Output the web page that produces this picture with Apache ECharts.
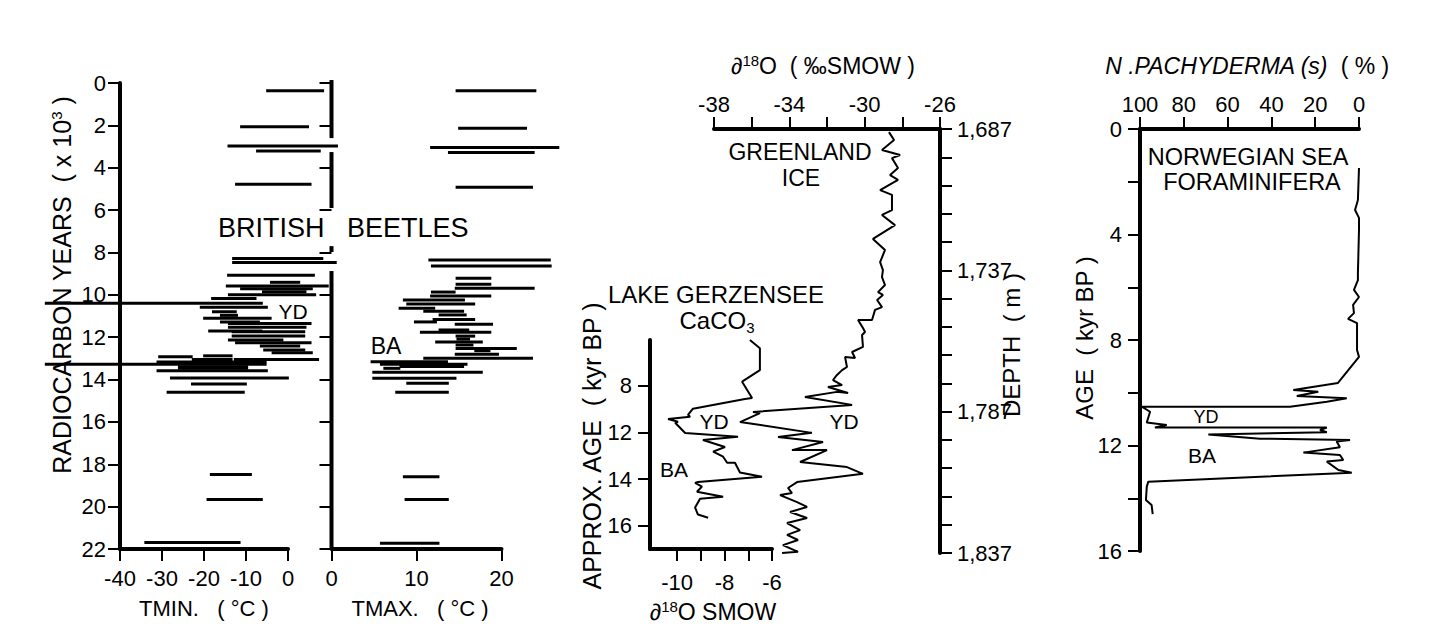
<!DOCTYPE html>
<html>
<head>
<meta charset="utf-8">
<script src="https://cdn.jsdelivr.net/npm/echarts@6/dist/echarts.min.js"></script>
<style>
  html, body { margin: 0; padding: 0; background: #fff; }
  #chart { width: 1431px; height: 640px; }
</style>
</head>
<body>
<div id="chart"></div>
<script>
// British beetles: [age (kyr 14C), low, high]
const tminBars = [
  [0.36, -5.2, 8.6], [2.06, -11.4, 5.0], [2.97, -14.4, 11.9], [3.21, -7.6, 7.8], [4.78, -12.6, 5.6],
  [8.28, -13.3, 8.4], [8.47, -13.3, 11.6],
  [9.08, -14.5, 6.4], [9.41, -4.3, 2.9], [9.58, -14.8, 9.7], [9.71, -11.4, 5.9], [9.85, -6.2, 4.4],
  [10.0, -14.3, 6.7], [10.17, -18.3, -7.5], [10.4, -57.9, -6.0], [10.59, -21.0, -4.8], [10.8, -18.1, -12.2],
  [10.97, -16.2, -11.9], [11.11, -20.2, -3.9], [11.28, -16.2, -6.7], [11.35, -14.3, 5.6], [11.53, -14.3, 4.4],
  [11.71, -19.0, -6.1], [11.74, -13.4, 4.1], [11.95, -13.4, 4.1], [12.13, -14.3, -1.1], [12.26, -12.6, 5.6],
  [12.42, -6.7, 2.9], [12.6, -5.9, 4.1], [12.73, -3.9, 5.9], [12.88, -20.2, -13.2], [12.92, -30.9, -22.7],
  [13.05, -22.9, -13.2], [13.05, -12.9, 7.4], [13.17, -31.3, -5.1], [13.28, -57.9, -5.1], [13.4, -26.2, -9.5],
  [13.47, -26.2, -9.5], [13.58, -31.3, -4.8], [13.93, -28.1, 0.2], [14.21, -23.1, -9.8], [14.6, -28.9, -10.3],
  [18.48, -18.6, -8.6], [19.66, -19.4, -6.0], [21.69, -34.2, -11.3]
];
const tmaxBars = [
  [0.36, 14.6, 24.1], [2.14, 14.9, 23.0], [3.04, 11.6, 26.8], [3.28, 13.7, 23.9], [4.92, 14.6, 23.7],
  [8.36, 11.4, 25.8], [8.64, 11.7, 25.9],
  [9.22, 14.6, 18.8], [9.5, 14.6, 18.8], [9.69, 14.5, 23.9], [9.87, 11.7, 14.6], [10.06, 11.6, 18.8],
  [10.25, 8.4, 15.7], [10.43, 8.8, 16.9], [10.64, 7.9, 12.2], [10.77, 10.8, 15.6], [10.95, 12.6, 15.9],
  [11.16, 11.9, 16.9], [11.28, 9.7, 12.4], [11.39, 14.5, 19.0], [11.66, 12.6, 16.2], [11.77, 10.4, 18.8],
  [11.95, 14.6, 16.9], [12.09, 14.7, 16.3], [12.23, 12.2, 17.8], [12.37, 14.6, 16.7], [12.53, 14.6, 21.8],
  [12.64, 16.8, 18.7], [12.81, 14.5, 19.7], [13.0, 10.8, 23.7], [13.16, 4.6, 13.7], [13.28, 5.7, 16.0],
  [13.39, 8.0, 15.6], [13.47, 6.1, 8.1], [13.66, 4.8, 17.8], [13.94, 4.8, 14.7], [14.18, 8.8, 13.8],
  [14.6, 7.5, 13.8], [18.59, 8.4, 12.7], [19.66, 8.6, 13.8], [21.73, 5.7, 12.7]
];
// pieces of the broken TMAX age axis [from, to]
const tmaxAxisPieces = [[-0.14, 2.6], [3.26, 5.9], [7.7, 7.98], [8.88, 22]];

// Greenland ice: [depth m, d18O]
const greenland = [
  [1688.1, -28.71], [1690.9, -28.44], [1694.4, -29.08], [1696.2, -28.12], [1697.3, -28.55], [1700.8, -28.23],
  [1703.3, -28.65], [1705.0, -28.23], [1708.6, -29.18], [1710.3, -28.55], [1715.7, -28.55], [1717.4, -29.08],
  [1721.0, -28.39], [1725.9, -29.56], [1729.8, -28.92], [1734.1, -29.18], [1736.9, -29.03], [1739.4, -29.08],
  [1742.2, -28.92], [1744.7, -29.29], [1745.7, -29.03], [1747.5, -29.34], [1750.0, -29.08], [1751.0, -29.45],
  [1754.6, -29.61], [1754.6, -30.35], [1757.4, -30.09], [1758.8, -29.98], [1759.9, -30.14], [1764.1, -30.09],
  [1765.9, -30.67], [1768.0, -30.51], [1767.7, -31.04], [1771.2, -30.94], [1772.3, -31.20], [1774.0, -31.47],
  [1775.8, -31.68], [1777.6, -31.20], [1778.3, -31.95], [1780.4, -30.88], [1780.0, -31.47], [1781.8, -33.17],
  [1784.6, -30.67], [1787.1, -35.93], [1787.5, -35.56], [1790.7, -36.62], [1791.0, -36.25], [1794.5, -32.80],
  [1796.0, -34.60], [1797.7, -32.21], [1800.6, -33.86], [1800.6, -32.00], [1804.8, -33.43], [1806.6, -30.94],
  [1809.0, -30.09], [1811.9, -33.59], [1814.0, -34.07], [1815.8, -33.86], [1816.5, -34.49], [1819.0, -33.59],
  [1820.7, -33.06], [1822.5, -33.96], [1824.6, -33.06], [1826.4, -34.12], [1828.9, -33.43], [1830.6, -34.12],
  [1832.4, -33.54], [1834.2, -34.34], [1836.6, -33.54], [1837.0, -34.39]
];
const depthTicks = [1687, 1697, 1707, 1717, 1727, 1737, 1747, 1757, 1767, 1777, 1787, 1797, 1807, 1817, 1827, 1837];
const depthLabels = [1687, 1737, 1787, 1837];

// Lake Gerzensee: [age tick position, d18O]; the age ticks are evenly spaced
const gzAgeTickLabels = ['8', '12', '14', '16'];
const gerzensee = [
  [-0.985, -6.93], [-0.81, -6.51], [-0.34, -6.51], [-0.09, -7.26], [0.26, -6.84], [0.28, -7.14], [0.49, -9.33],
  [0.62, -9.54], [0.66, -9.45], [0.71, -10.38], [0.77, -9.96], [0.79, -10.08], [1.01, -9.66], [1.09, -7.43],
  [1.16, -8.91], [1.31, -7.98], [1.41, -8.48], [1.52, -8.06], [1.65, -7.89], [1.65, -7.56], [1.86, -7.35],
  [1.95, -6.42], [2.06, -9.12], [2.08, -9.24], [2.16, -8.95], [2.27, -9.16], [2.38, -8.06], [2.42, -9.03],
  [2.61, -9.24], [2.76, -9.12], [2.83, -8.69]
];
const gzXTicks = [-10, -9, -8, -7, -6];
const gzXLabels = [-10, -8, -6];

// Norwegian Sea: [age kyr BP, N. pachyderma (s) %]
const pachyderma = [
  [1.48, 0], [2.69, 0.5], [3.07, 1.8], [3.37, 0], [3.83, 0], [5.46, 0.5], [5.73, 0.5], [6.1, 2.3], [6.37, 0],
  [6.67, 2.7], [6.98, 2.3], [7.2, 5], [7.36, 0.9], [8.38, 0.9], [8.64, 0], [9.63, 9.6], [9.9, 30], [9.96, 18.6],
  [10.12, 28.4], [10.21, 5.6], [10.34, 14.7], [10.53, 31.5], [10.53, 99.2], [10.72, 95.4], [11.13, 96.9],
  [11.22, 87.8], [11.32, 93.2], [11.32, 14.7], [11.41, 17.8], [11.5, 14.7], [11.58, 68.8], [11.74, 45.2],
  [11.79, 4.1], [11.85, 10.2], [12.07, 8.7], [12.27, 25.4], [12.36, 8.7], [12.55, 7.2], [12.61, 14.7],
  [12.93, 9.4], [13.03, 3.3], [13.37, 96.2], [13.56, 96.9], [14.07, 97.3], [14.26, 94.7], [14.6, 94.2]
];

const FONT = '"Liberation Sans", Arial, Helvetica, sans-serif';
const chart = echarts.init(document.getElementById('chart'), null, { renderer: 'svg' });

const axisLine = { show: true, onZero: false, lineStyle: { color: '#000', width: 4 } };
const axisTick = { show: true, length: 12, lineStyle: { color: '#000', width: 2 } };
const label = (margin) => ({ color: '#000', fontSize: 22, fontFamily: FONT, margin });
const noSplit = { show: false };

// horizontal range bar at a given age
const hBar = (params, api) => {
  const a = api.coord([api.value(1), api.value(0)]);
  const b = api.coord([api.value(2), api.value(0)]);
  return { type: 'line', shape: { x1: a[0], y1: a[1], x2: b[0], y2: b[1] }, style: { stroke: '#000', lineWidth: 3 } };
};
// vertical piece of axis at x = 0
const vPiece = (params, api) => {
  const a = api.coord([0, api.value(0)]);
  const b = api.coord([0, api.value(1)]);
  return { type: 'line', shape: { x1: a[0], y1: a[1], x2: b[0], y2: b[1] }, style: { stroke: '#000', lineWidth: 4 } };
};

const txt = (x, y, text, size, extra) => Object.assign({
  type: 'text', x, y,
  style: Object.assign({ text, fontSize: size, fontFamily: FONT, fill: '#000', align: 'center', verticalAlign: 'middle' },
    extra && extra.style || {})
}, extra && extra.rotation ? { rotation: extra.rotation } : {});

const sup = { s: { fontSize: 15, fontFamily: FONT, verticalAlign: 'top', lineHeight: 26 } };
const sub = { s: { fontSize: 15, fontFamily: FONT, verticalAlign: 'bottom', lineHeight: 30 } };

const option = {
  backgroundColor: '#fff',
  animation: false,
  grid: [
    { left: 120, top: 83, width: 168, height: 466, outerBoundsMode: 'none' },
    { left: 331.5, top: 83, width: 170, height: 466, outerBoundsMode: 'none' },
    { left: 714, top: 129, width: 226, height: 424, outerBoundsMode: 'none' },
    { left: 650, top: 340, width: 122, height: 209, outerBoundsMode: 'none' },
    { left: 1140, top: 129, width: 219, height: 422, outerBoundsMode: 'none' }
  ],
  xAxis: [
    { gridIndex: 0, type: 'value', min: -40, max: 0, interval: 10, axisLine, axisTick, axisLabel: label(18), splitLine: noSplit },
    { gridIndex: 1, type: 'value', min: 0, max: 20, interval: 10, axisLine, axisTick, axisLabel: label(18), splitLine: noSplit },
    { gridIndex: 2, type: 'value', position: 'top', min: -38, max: -26, interval: 2, axisLine, axisTick,
      axisLabel: Object.assign(label(14), { formatter: v => ((v + 38) % 4 === 0 ? String(v) : '') }), splitLine: noSplit },
    { gridIndex: 3, type: 'value', min: -11.14, max: -6, axisLine,
      axisTick: Object.assign({}, axisTick, { customValues: gzXTicks }),
      axisLabel: Object.assign(label(22), { customValues: gzXLabels }), splitLine: noSplit },
    { gridIndex: 4, type: 'value', position: 'top', inverse: true, min: 0, max: 100, interval: 20, axisLine, axisTick,
      axisLabel: label(14), splitLine: noSplit }
  ],
  yAxis: [
    { gridIndex: 0, type: 'value', inverse: true, min: 0, max: 22, interval: 2, axisLine, axisTick, axisLabel: label(14), splitLine: noSplit },
    { gridIndex: 1, type: 'value', inverse: true, min: 0, max: 22, interval: 2, axisLine: { show: false }, axisTick,
      axisLabel: { show: false }, splitLine: noSplit },
    { gridIndex: 2, type: 'value', position: 'right', inverse: true, min: 1687, max: 1837, axisLine,
      axisTick: Object.assign({}, axisTick, { customValues: depthTicks }),
      axisLabel: Object.assign(label(17), { customValues: depthLabels, formatter: v => v.toLocaleString('en-US') }),
      splitLine: noSplit },
    { gridIndex: 3, type: 'value', inverse: true, min: -0.985, max: 3.5, axisLine,
      axisTick: Object.assign({}, axisTick, { customValues: [0, 1, 2, 3] }),
      axisLabel: Object.assign(label(18), { customValues: [0, 1, 2, 3], formatter: v => gzAgeTickLabels[Math.round(v)] }),
      splitLine: noSplit },
    { gridIndex: 4, type: 'value', inverse: true, min: 0, max: 16, interval: 2, axisLine, axisTick,
      axisLabel: Object.assign(label(18), { formatter: v => (v % 4 === 0 ? String(v) : '') }), splitLine: noSplit }
  ],
  series: [
    { type: 'custom', xAxisIndex: 0, yAxisIndex: 0, clip: false, renderItem: hBar, encode: { x: [1, 2], y: 0 }, data: tminBars },
    { type: 'custom', xAxisIndex: 1, yAxisIndex: 1, clip: false, renderItem: hBar, encode: { x: [1, 2], y: 0 }, data: tmaxBars },
    { type: 'custom', xAxisIndex: 1, yAxisIndex: 1, clip: false, renderItem: vPiece, encode: { y: [0, 1] }, data: tmaxAxisPieces },
    { type: 'line', xAxisIndex: 2, yAxisIndex: 2, showSymbol: false, clip: false,
      lineStyle: { color: '#000', width: 2 }, data: greenland.map(d => [d[1], d[0]]) },
    { type: 'line', xAxisIndex: 3, yAxisIndex: 3, showSymbol: false, clip: false,
      lineStyle: { color: '#000', width: 2 }, data: gerzensee.map(d => [d[1], d[0]]) },
    { type: 'line', xAxisIndex: 4, yAxisIndex: 4, showSymbol: false, clip: false,
      lineStyle: { color: '#000', width: 2 }, data: pachyderma.map(d => [d[1], d[0]]) }
  ],
  graphic: [
    txt(62, 285, 'RADIOCARBON YEARS  ( x 10{s|3} )', 25, { rotation: Math.PI / 2, style: { rich: sup } }),
    txt(218, 228, 'BRITISH', 27, { style: { align: 'left' } }),
    txt(347, 228, 'BEETLES', 27, { style: { align: 'left' } }),
    txt(293, 311, 'YD', 21),
    txt(386, 346, 'BA', 23),
    txt(204, 608, 'TMIN.   ( °C )', 22),
    txt(420, 608, 'TMAX.   ( °C )', 22),
    txt(823, 66, '∂{s|18}O  ( ‰SMOW )', 23, { style: { rich: sup } }),
    txt(800, 152, 'GREENLAND', 23),
    txt(801, 178, 'ICE', 23),
    txt(1011, 345, 'DEPTH  ( m )', 24, { rotation: Math.PI / 2 }),
    txt(716, 294, 'LAKE GERZENSEE', 24),
    txt(717, 320, 'CaCO{s|3}', 24, { style: { rich: sub } }),
    txt(592, 446, 'APPROX. AGE  ( kyr BP )', 25, { rotation: Math.PI / 2 }),
    txt(713, 612, '∂{s|18}O SMOW', 23, { style: { rich: sup } }),
    txt(714, 421, 'YD', 21),
    txt(844, 421, 'YD', 21),
    txt(674, 469, 'BA', 21),
    txt(1247, 66, '{i|N .PACHYDERMA (s)}  ( % )', 23,
      { style: { rich: { i: { fontStyle: 'italic', fontSize: 23, fontFamily: FONT } } } }),
    txt(1248, 157, 'NORWEGIAN SEA', 23.5),
    txt(1252, 182, 'FORAMINIFERA', 23.5),
    txt(1084, 338, 'AGE  ( kyr BP )', 24, { rotation: Math.PI / 2 }),
    txt(1206, 417, 'YD', 18),
    txt(1202, 455, 'BA', 21)
  ]
};

chart.setOption(option);
</script>
</body>
</html>
